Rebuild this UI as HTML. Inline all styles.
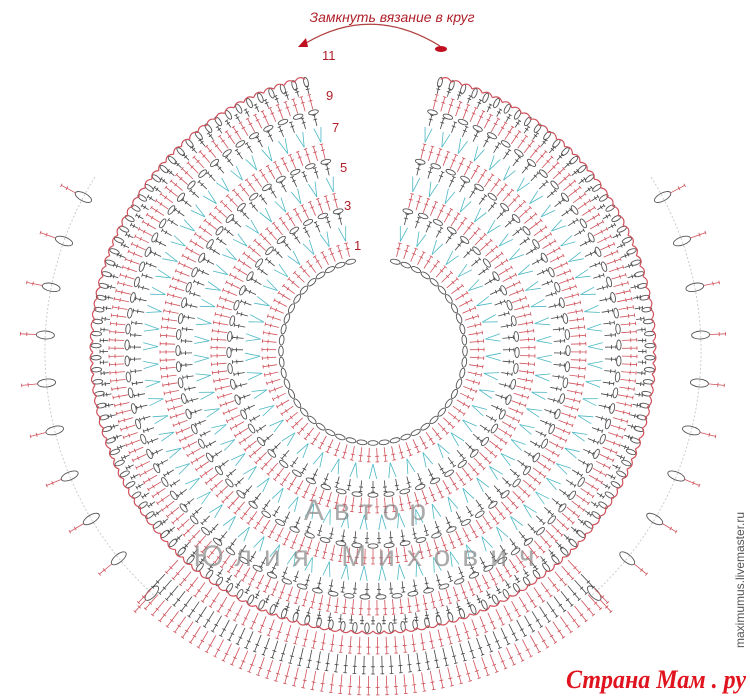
<!DOCTYPE html>
<html><head><meta charset="utf-8">
<style>
html,body{margin:0;padding:0;background:#fff;}
#w{position:relative;width:750px;height:700px;overflow:hidden;background:#fff;}
svg{position:absolute;left:0;top:0;}
</style></head>
<body><div id="w">
<svg id="g" width="750" height="700" viewBox="0 0 750 700"></svg>
<svg width="750" height="700" viewBox="0 0 750 700" style="pointer-events:none">
<text x="392" y="22" text-anchor="middle" font-family="Liberation Sans, sans-serif" font-style="italic" font-size="14" fill="#b0202a">Замкнуть вязание в круг</text>
<path d="M440 46 Q372 4 306 43" fill="none" stroke="#b04040" stroke-width="1.3"/>
<polygon points="298,47 306,38 308,47" fill="#c01020"/>
<ellipse cx="441" cy="49" rx="6" ry="3" fill="#c01020"/>
<g font-family="Liberation Sans, sans-serif" font-size="13" fill="#b0202a">
<text x="322" y="60">11</text><text x="326" y="100">9</text><text x="332" y="132">7</text>
<text x="340" y="172">5</text><text x="344" y="210">3</text><text x="354" y="250">1</text>
</g>
<g font-family="Liberation Sans, sans-serif" fill="#888" opacity="0.7">
<text x="370" y="520" text-anchor="middle" font-size="30" letter-spacing="10">Автор</text>
<text x="370" y="566" text-anchor="middle" font-size="30" letter-spacing="12">Юлия Михович</text>
</g>
<text transform="translate(744,648) rotate(-90)" font-family="Liberation Sans, sans-serif" font-size="12" fill="#555">maximumus.livemaster.ru</text>
<text x="566" y="688" textLength="180" lengthAdjust="spacingAndGlyphs" font-family="Liberation Serif, serif" font-style="italic" font-weight="bold" font-size="26" fill="#e0141e">Страна Мам . ру</text>
</svg>
</div>
<script>
const cx=373,cy=351;
const R='#d0505a',T='#4bb8c4',K='#444',E='#555';
function P(r,a){const t=a*Math.PI/180;return [cx+r*Math.sin(t),cy-r*Math.cos(t)];}
let s='';
function ln(r1,a1,r2,a2,c,w){const p=P(r1,a1),q=P(r2,a2);s+=`<line x1="${p[0].toFixed(1)}" y1="${p[1].toFixed(1)}" x2="${q[0].toFixed(1)}" y2="${q[1].toFixed(1)}" stroke="${c}" stroke-width="${w||0.8}"/>`;}
function st(r1,r2,a,c,tick){ln(r1,a,r2,a,c);if(tick){const rm=r1+(r2-r1)*0.6;const d=2/rm*180/Math.PI;ln(rm,a-d,rm,a+d,c);}
 const d2=1.8/r2*180/Math.PI;ln(r2,a-d2,r2,a+d2,c);}
function el(r,a,rx,ry,c){const p=P(r,a);s+=`<ellipse cx="${p[0].toFixed(1)}" cy="${p[1].toFixed(1)}" rx="${rx}" ry="${ry}" transform="rotate(${a.toFixed(1)} ${p[0].toFixed(1)} ${p[1].toFixed(1)})" fill="none" stroke="${c}" stroke-width="0.9"/>`;}
const A0=14,A1=346;
function each(r,sp,f,a0,a1){a0=a0??A0;a1=a1??A1;const step=sp/r*180/Math.PI;const n=Math.floor((a1-a0)/step);const st2=(a1-a0)/n;for(let i=0;i<=n;i++)f(a0+i*st2,i);}
each(92,11,a=>el(92,a,5,2.3,E));
const rows=[[96,112,'r'],[112,129,'t'],[129,146,'k'],[146,163,'r'],[163,180,'t'],[180,197,'k'],[197,214,'r'],[214,231,'t'],[231,248,'k'],[248,265,'r'],[265,282,'s']];
rows.forEach(([a,b,t])=>{
 const rm=(a+b)/2;
 if(t==='r'){each(rm,8,x=>st(a+1,b-1,x,R,true));}
 else if(t==='t'){each(rm,18,x=>{const d=3.5/rm*180/Math.PI;ln(a+1,x,b-1,x-d,T);ln(a+1,x,b-1,x+d,T);});}
 else if(t==='k'){each(rm,12,x=>st(a+1,b-5,x,K,true));each(b-2,16,x=>el(b-2,x,5,2.2,E));}
 else {each(rm,11,x=>st(a,b-9,x,K,true));each(b-5,12,x=>el(b-5,x,2.2,5,E));
   const step=11/b*180/Math.PI;each(b,11,(x)=>{const p=P(b-2,x),q=P(b-2,x+step);if(x+step>A1)return;const m=P(b+4,x+step/2);s+=`<path d="M${p[0].toFixed(1)} ${p[1].toFixed(1)} Q${m[0].toFixed(1)} ${m[1].toFixed(1)} ${q[0].toFixed(1)} ${q[1].toFixed(1)}" fill="none" stroke="${R}" stroke-width="1.2"/>`;});}
});
function arc(r,a0,a1){const p=P(r,a0),q=P(r,a1);s+=`<path d="M${p[0].toFixed(1)} ${p[1].toFixed(1)} A${r} ${r} 0 0 1 ${q[0].toFixed(1)} ${q[1].toFixed(1)}" fill="none" stroke="#ccc" stroke-width="1" stroke-dasharray="2 2"/>`;}
arc(328,58,138);arc(328,222,302);
for(let i=0;i<10;i++){const a=62+i*8.4;[a,360-a].forEach(x=>{el(328,x,4,9,E);st(337,353,x,R,true);});}
[[285,304,R],[304,324,K],[324,345,R]].forEach(([a,b,c])=>each((a+b)/2,9,x=>st(a+1,b-1,x,c,true),137,223));
document.getElementById('g').innerHTML=s;
</script>
</body></html>
